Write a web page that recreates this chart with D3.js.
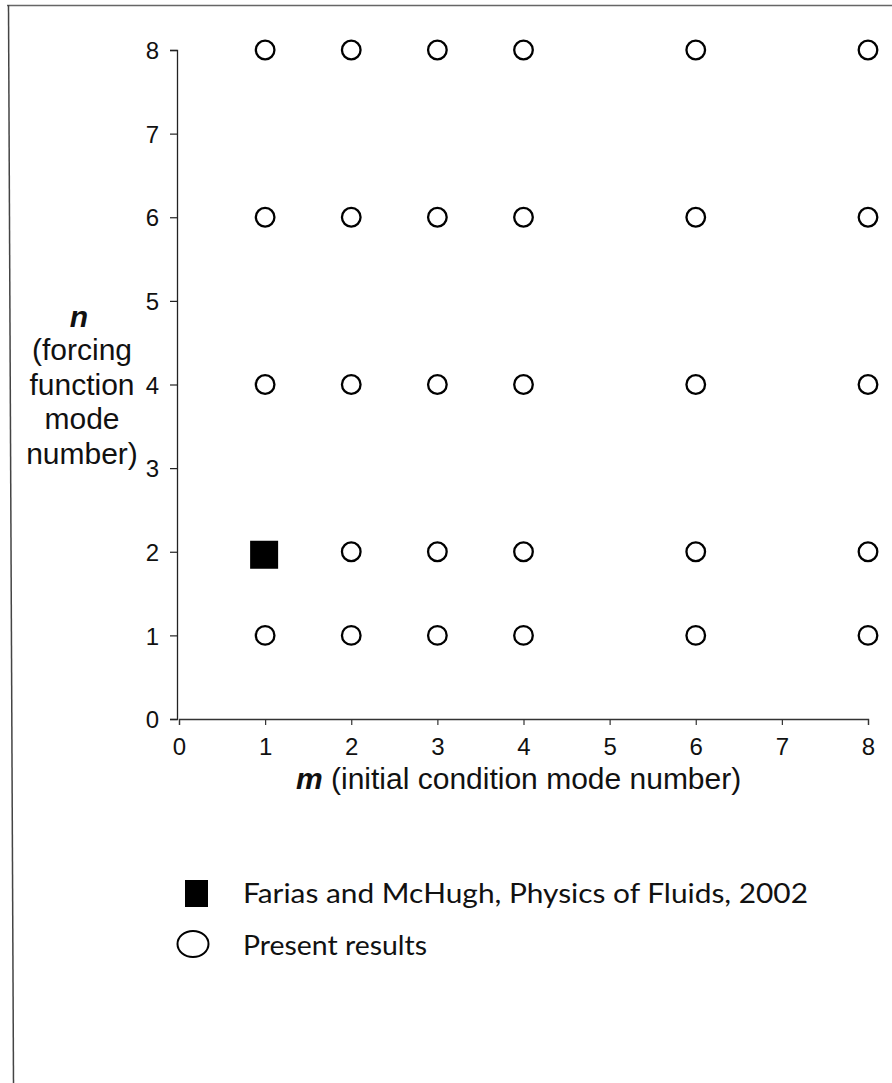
<!DOCTYPE html>
<html>
<head>
<meta charset="utf-8">
<script src="https://cdn.jsdelivr.net/npm/d3@7"></script>
<style>
  html, body { margin: 0; padding: 0; background: #fff; }
  svg { display: block; }
  .tick text { font-family: "Liberation Sans", Arial, sans-serif; }
</style>
</head>
<body>
<svg id="chart" width="892" height="1083"></svg>
<script>
// Mode-number grid: m = initial condition mode, n = forcing function mode
const xTicks = [0, 1, 2, 3, 4, 5, 6, 7, 8];
const yTicks = [0, 1, 2, 3, 4, 5, 6, 7, 8];

// Cases reported by Farias and McHugh (2002)
const fariasMcHugh = [[1, 2]];

// Cases computed here
const presentResults = [
  [1, 1], [2, 1], [3, 1], [4, 1], [6, 1], [8, 1],
  [2, 2], [3, 2], [4, 2], [6, 2], [8, 2],
  [1, 4], [2, 4], [3, 4], [4, 4], [6, 4], [8, 4],
  [1, 6], [2, 6], [3, 6], [4, 6], [6, 6], [8, 6],
  [1, 8], [2, 8], [3, 8], [4, 8], [6, 8], [8, 8]
];

const yLabelLines = ["(forcing", "function", "mode", "number)"];
const legendLabels = ["Farias and McHugh, Physics of Fluids, 2002", "Present results"];

const svg = d3.select("#chart");

// Page frame
svg.append("line").attr("x1", 7).attr("y1", 5.5).attr("x2", 892).attr("y2", 5.5)
  .attr("stroke", "#666").attr("stroke-width", 1.5);
svg.append("line").attr("x1", 8.5).attr("y1", 5).attr("x2", 13.5).attr("y2", 1083)
  .attr("stroke", "#444").attr("stroke-width", 1.5);

const x = d3.scaleLinear().domain([0, 8]).range([179, 868]);
const y = d3.scaleLinear().domain([0, 8]).range([719, 50]);

const axisFont = '"Liberation Sans", Arial, sans-serif';

// Y axis
const gy = svg.append("g").attr("transform", `translate(${x(0) - 2},0)`)
  .call(d3.axisLeft(y).tickValues(yTicks).tickFormat(d3.format("d")).tickSize(7).tickPadding(11));
gy.attr("font-size", 24);
gy.select(".domain").attr("stroke", "#222").attr("stroke-width", 1.3);
gy.selectAll(".tick line").attr("stroke", "#222").attr("stroke-width", 1.2);
gy.selectAll(".tick text").attr("fill", "#111").attr("dy", "0.36em");

// X axis
const gx = svg.append("g").attr("transform", `translate(0,${y(0)})`)
  .call(d3.axisBottom(x).tickValues(xTicks).tickFormat(d3.format("d")).tickSize(6).tickPadding(13));
gx.attr("font-size", 24);
gx.select(".domain").attr("stroke", "#333").attr("stroke-width", 1.3);
gx.selectAll(".tick line").attr("stroke", "#333").attr("stroke-width", 1.2);
gx.selectAll(".tick text").attr("fill", "#111");

// Y axis title
const yTitle = svg.append("text")
  .attr("font-family", axisFont).attr("font-size", 30).attr("fill", "#111")
  .attr("text-anchor", "middle");
yTitle.append("tspan").attr("x", 79).attr("y", 327)
  .attr("font-weight", "bold").attr("font-style", "italic").text("n");
yLabelLines.forEach((t, i) => {
  yTitle.append("tspan").attr("x", 82).attr("y", 360 + i * 34.5).text(t);
});

// X axis title
const xTitle = svg.append("text")
  .attr("font-family", axisFont).attr("font-size", 30).attr("fill", "#111")
  .attr("x", 296).attr("y", 789);
xTitle.append("tspan").attr("font-weight", "bold").attr("font-style", "italic").text("m");
xTitle.append("tspan").text(" (initial condition mode number)");

// Markers
svg.append("g").selectAll("circle").data(presentResults).join("circle")
  .attr("cx", d => x(d[0])).attr("cy", d => y(d[1])).attr("r", 9.3)
  .attr("fill", "none").attr("stroke", "#000").attr("stroke-width", 2.3);

const sq = 28;
svg.append("g").selectAll("rect").data(fariasMcHugh).join("rect")
  .attr("x", d => x(d[0]) - sq / 2 - 1).attr("y", d => y(d[1]) - sq / 2 + 3)
  .attr("width", sq).attr("height", sq).attr("fill", "#000");

// Legend
const legendFont = 'Lato, "Noto Sans", sans-serif';
const lg = svg.append("g");
lg.append("rect").attr("x", 185).attr("y", 880).attr("width", 23).attr("height", 27).attr("fill", "#000");
lg.append("ellipse").attr("cx", 193).attr("cy", 944).attr("rx", 15.5).attr("ry", 13)
  .attr("fill", "none").attr("stroke", "#000").attr("stroke-width", 2);
const legendTargets = [[243, 903, 565], [243, 955, 184]];
legendLabels.forEach((t, i) => {
  const [lx, ly, w] = legendTargets[i];
  lg.append("text").attr("x", lx).attr("y", ly)
    .attr("font-family", legendFont).attr("font-size", 27).attr("fill", "#111")
    .attr("textLength", w).attr("lengthAdjust", "spacingAndGlyphs")
    .text(t);
});
</script>
</body>
</html>
